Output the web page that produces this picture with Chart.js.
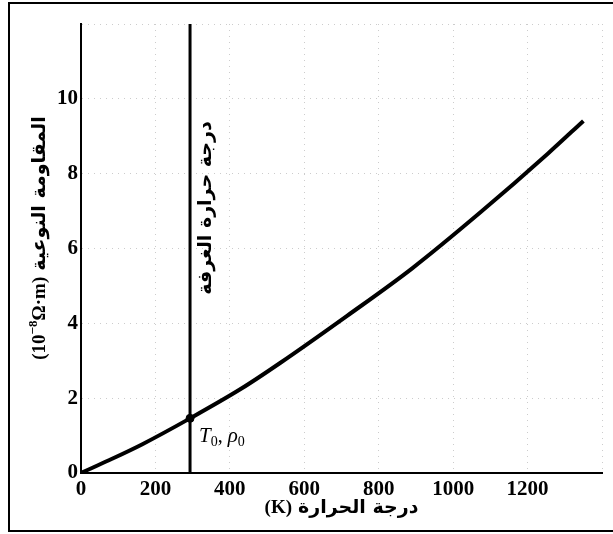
<!DOCTYPE html>
<html lang="ar">
<head>
<meta charset="utf-8">
<script src="https://cdn.jsdelivr.net/npm/chart.js@4.4.1/dist/chart.umd.min.js"></script>
<style>
html, body { margin: 0; padding: 0; background: #fff; }
#wrap { width: 613px; height: 534px; }
</style>
</head>
<body>
<div id="wrap"><canvas id="rhoChart" width="613" height="534"></canvas></div>
<script>
// Resistivity vs temperature
const tempK = [0, 75, 165, 293, 430, 535, 715, 890, 1075, 1255, 1350];
const resistivity = [0, 0.34, 0.77, 1.46, 2.25, 2.94, 4.2, 5.47, 6.98, 8.54, 9.41];
const roomTemp = 293;
const rho0 = 1.46;
const xTickLabels = ['0', '200', '400', '600', '800', '1000', '1200', ''];
const yTickLabels = ['0', '2', '4', '6', '8', '10', ''];

const xTitleAr = 'درجة الحرارة';
const xTitleUnit = '(K)';
const yTitleAr = 'المقاومة النوعية';
const roomLabel = 'درجة حرارة الغرفة';

const serif = "'Liberation Serif', 'DejaVu Serif', serif";
const arabicFont = "bold 19px 'DejaVu Sans', sans-serif";
const unitFont = 'bold 19px ' + serif;

const curve = tempK.map((t, i) => ({ x: t, y: resistivity[i] }));

// frame round the whole figure
const framePlugin = {
    id: 'frame',
    beforeDraw(chart) {
        const ctx = chart.ctx;
        ctx.save();
        ctx.fillStyle = '#fff';
        ctx.fillRect(0, 0, chart.width, chart.height);
        ctx.strokeStyle = '#000';
        ctx.lineWidth = 2;
        ctx.strokeRect(9, 3, chart.width, 528);
        ctx.restore();
    }
};

// draws [text, font, dy] pieces left to right, centred on 0
function drawRun(ctx, pieces, gap) {
    const widths = pieces.map(([t, f]) => { ctx.font = f; return ctx.measureText(t).width; });
    let px = -(widths.reduce((s, w) => s + w, 0) + gap) / 2;
    pieces.forEach(([t, f, dy, rtl], i) => {
        ctx.font = f;
        ctx.direction = rtl ? 'rtl' : 'ltr';
        ctx.fillText(t, px, dy);
        px += widths[i] + (i === pieces.length - 2 ? gap : 0);
    });
}

// axis titles, room temperature label and T0, rho0
const textPlugin = {
    id: 'texts',
    afterDraw(chart) {
        const { ctx, chartArea: a, scales: { x, y } } = chart;
        ctx.save();
        ctx.fillStyle = '#000';
        ctx.textAlign = 'left';
        ctx.textBaseline = 'middle';

        ctx.save();
        ctx.translate((a.left + a.right) / 2, a.bottom + 35);
        drawRun(ctx, [[xTitleUnit, unitFont, 0], [xTitleAr, arabicFont, 0, true]], 6);
        ctx.restore();

        ctx.save();
        ctx.translate(a.left - 41, 238);
        ctx.rotate(-Math.PI / 2);
        drawRun(ctx, [
            ['(10', unitFont, 0],
            ['−8', 'bold 13px ' + serif, -6],
            ['Ω·m)', unitFont, 0],
            [yTitleAr, arabicFont, 0, true]
        ], 6);
        ctx.restore();

        ctx.save();
        ctx.translate(x.getPixelForValue(roomTemp) + 16, a.top + 0.41 * (a.bottom - a.top));
        ctx.rotate(-Math.PI / 2);
        ctx.direction = 'rtl';
        ctx.textAlign = 'center';
        ctx.font = arabicFont;
        ctx.fillText(roomLabel, 0, 0);
        ctx.restore();

        // T0, rho0
        ctx.direction = 'ltr';
        ctx.textAlign = 'left';
        ctx.textBaseline = 'alphabetic';
        let px = x.getPixelForValue(roomTemp) + 9;
        const py = y.getPixelForValue(rho0) + 24;
        const parts = [
            ['T', 'italic 21px ' + serif, 0],
            ['0', '14px ' + serif, 4],
            [', ', '20px ' + serif, 0],
            ['ρ', 'italic 21px ' + serif, 0],
            ['0', '14px ' + serif, 4]
        ];
        parts.forEach(([t, f, dy]) => {
            ctx.font = f;
            ctx.fillText(t, px, py + dy);
            px += ctx.measureText(t).width;
        });
        ctx.restore();
    }
};

const tickFont = { family: serif, size: 21, weight: 'bold' };

new Chart(document.getElementById('rhoChart'), {
    type: 'line',
    data: {
        datasets: [{
            data: curve,
            borderColor: '#000',
            borderWidth: 4,
            pointRadius: 0,
            cubicInterpolationMode: 'monotone',
            fill: false
        }, {
            data: [{ x: roomTemp, y: 0 }, { x: roomTemp, y: 12 }],
            borderColor: '#000',
            borderWidth: 3,
            pointRadius: 0,
            fill: false
        }, {
            data: [{ x: roomTemp, y: rho0 }],
            showLine: false,
            pointRadius: 4,
            pointBackgroundColor: '#000',
            pointBorderColor: '#000'
        }]
    },
    options: {
        responsive: false,
        animation: false,
        layout: { padding: { left: 10, right: 11, top: 24, bottom: 0 } },
        plugins: { legend: { display: false }, tooltip: { enabled: false } },
        scales: {
            x: {
                type: 'linear',
                min: 0,
                max: 1400,
                ticks: {
                    stepSize: 200,
                    color: '#000',
                    font: tickFont,
                    padding: 4,
                    maxRotation: 0,
                    callback: (v, i) => xTickLabels[i]
                },
                grid: { color: '#cccccc', lineWidth: 1, drawTicks: false },
                border: { color: '#000', width: 2, dash: [1, 5] },
                afterFit: s => { s.height = 61; }
            },
            y: {
                min: 0,
                max: 12,
                ticks: {
                    stepSize: 2,
                    color: '#000',
                    font: tickFont,
                    padding: 3,
                    callback: (v, i) => yTickLabels[i]
                },
                grid: { color: '#cccccc', lineWidth: 1, drawTicks: false },
                border: { color: '#000', width: 2, dash: [1, 5] },
                afterFit: s => { s.width = 71; }
            }
        }
    },
    plugins: [framePlugin, textPlugin]
});
</script>
</body>
</html>
